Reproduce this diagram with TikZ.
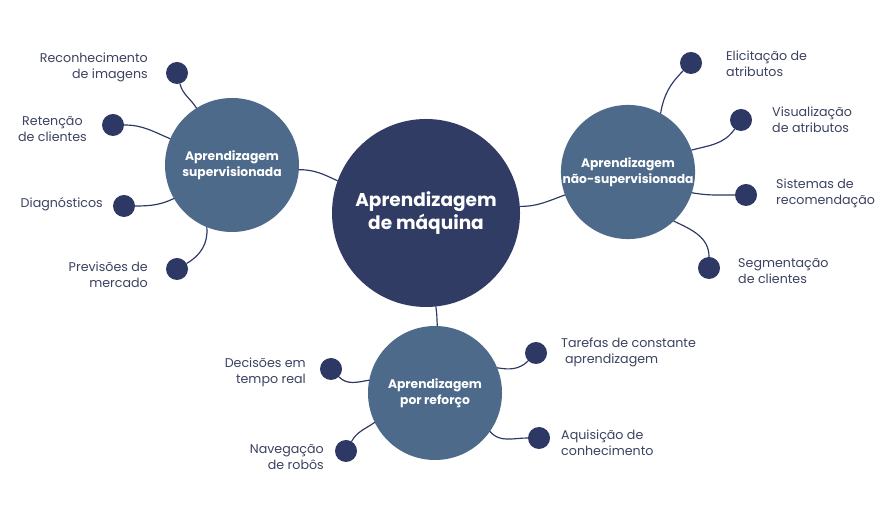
\documentclass[tikz,border=0pt]{standalone}
\usepackage{fontspec}
\setmainfont{Poppins}
\definecolor{navy}{HTML}{303C64}
\definecolor{steel}{HTML}{4D6A8B}
\definecolor{dotc}{HTML}{2E3865}
\definecolor{ink}{HTML}{3C4260}
\begin{document}
\begin{tikzpicture}[x=.03cm,y=.03cm,line cap=round,line join=round,
core/.style={circle,fill=navy,text=white,inner sep=0pt,minimum size=5.64cm,align=center,font=\bfseries\fontsize{15.8}{19.5}\selectfont},
hub/.style={circle,fill=steel,text=white,inner sep=0pt,minimum size=4.02cm,align=center,font=\bfseries\fontsize{10.5}{13.5}\selectfont},
leaf/.style={circle,fill=dotc,inner sep=0pt,minimum size=.66cm},
lbl/.style={text=ink,font=\fontsize{10.8}{13.6}\selectfont,inner sep=0pt},
link/.style={draw=dotc,line width=1pt}]
\fill[white] (0,0) rectangle (880,515);
\node[core] (ml) at (426,302) {Aprendizagem\\de máquina};
\node[hub] (sup) at (232,350) {Aprendizagem\\supervisionada};
\node[hub] (uns) at (628,343) {Aprendizagem\\não-supervisionada};
\node[hub] (ref) at (435,122) {Aprendizagem\\por reforço};
% main links
\draw[link] (sup.-4) to[out=0,in=155] (ml.160);
\draw[link] (ml.4) to[out=0,in=200] (uns.200);
\draw[link] (ml.-84) to[out=-80,in=95] (ref.88);
% supervisionada
\node[leaf] (d1) at (177,442) {}; \node[leaf] (d2) at (113,390) {};
\node[leaf] (d3) at (124,309) {}; \node[leaf] (d4) at (177,246) {};
\draw[link] (d1) to[out=-75,in=122] (sup.122);
\draw[link] (d2) to[out=0,in=157] (sup.157);
\draw[link] (d3) to[out=0,in=205] (sup.210);
\draw[link] (d4) to[out=30,in=-85] (sup.248);
\node[lbl,anchor=east,align=right] (t1) at (148,448) {Reconhecimento\\de imagens};
\node[lbl,anchor=east,align=center] (t2) at (87,386) {Retenção\\de clientes};
\node[lbl,anchor=east] (t3) at (103,311) {Diagnósticos};
\node[lbl,anchor=east,align=right] (t4) at (148,240) {Previsões de\\mercado};
% nao-supervisionada
\node[leaf] (e1) at (691,452) {}; \node[leaf] (e2) at (741,395) {};
\node[leaf] (e3) at (746,320) {}; \node[leaf] (e4) at (709,247) {};
\draw[link] (e1) to[out=225,in=80] (uns.61);
\draw[link] (e2) to[out=235,in=15] (uns.19);
\draw[link] (e3) to[out=180,in=-10] (uns.-18);
\draw[link] (e4) to[out=90,in=-25] (uns.-47);
\node[lbl,anchor=west,align=left] (u1) at (726,451) {Elicitação de\\atributos};
\node[lbl,anchor=west,align=left] (u2) at (772,395) {Visualização\\de atributos};
\node[lbl,anchor=west,align=left] (u3) at (776,322) {Sistemas de\\recomendação};
\node[lbl,anchor=west,align=left] (u4) at (738,244) {Segmentação\\de clientes};
% por reforco
\node[leaf] (f1) at (331,146) {}; \node[leaf] (f2) at (346,64) {};
\node[leaf] (f3) at (536,162) {}; \node[leaf] (f4) at (539,77) {};
\draw[link] (f1) to[out=-45,in=190] (ref.169);
\draw[link] (f2) to[out=60,in=215] (ref.206);
\draw[link] (f3) to[out=225,in=-10] (ref.22);
\draw[link] (f4) to[out=180,in=-50] (ref.-35);
\node[lbl,anchor=east,align=right] (r1) at (306,143) {Decisões em\\tempo real};
\node[lbl,anchor=east,align=right] (r2) at (324,58) {Navegação\\de robôs};
\node[lbl,anchor=west,align=left] (r3) at (561,163) {Tarefas de constante\\\hspace{.3em}aprendizagem};
\node[lbl,anchor=west,align=left] (r4) at (561,72) {Aquisição de\\conhecimento};
\end{tikzpicture}
\end{document}
